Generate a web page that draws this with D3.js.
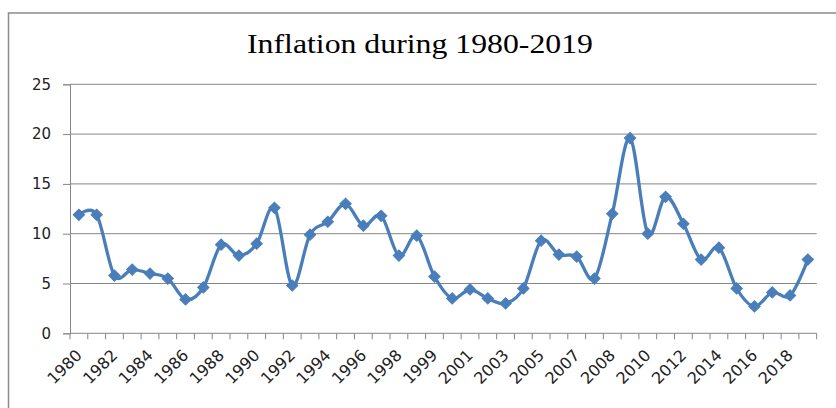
<!DOCTYPE html>
<html>
<head>
<meta charset="utf-8">
<script src="https://cdn.jsdelivr.net/npm/d3@7"></script>
<style>
  html, body { margin: 0; padding: 0; background: #fff; }
  svg { display: block; }
</style>
</head>
<body>
<svg id="chart" width="836" height="408"></svg>
<script>
// ---- data ----
const title = "Inflation during 1980-2019";
const categories = ["1980","1981","1982","1983","1984","1985","1986","1987","1988","1989",
  "1990","1991","1992","1993","1994","1995","1996","1997","1998","1998-99",
  "1999","2000","2001","2002","2003","2004","2005","2006","2007","2007-08",
  "2008","2009","2010","2011","2012","2013","2014","2015","2016","2017",
  "2018","2019"];
const inflation = [11.9, 11.9, 5.8, 6.4, 6.0, 5.5, 3.4, 4.6, 8.9, 7.8,
  9.0, 12.6, 4.8, 9.9, 11.2, 13.0, 10.8, 11.8, 7.8, 9.8,
  5.7, 3.5, 4.4, 3.5, 3.0, 4.5, 9.3, 7.9, 7.7, 5.5,
  12.0, 19.6, 10.0, 13.7, 11.0, 7.4, 8.6, 4.5, 2.7, 4.1,
  3.8, 7.4];
const yTicks = [0, 5, 10, 15, 20, 25];

// ---- layout ----
const svg = d3.select("#chart");
const plotLeft = 70, plotRight = 816.7, plotTop = 84.3, plotBottom = 333.3;
const gridColor = "#868686";
const lineColor = "#4A7EBB";

// outer border (right and bottom edges fall outside the picture)
svg.append("rect")
  .attr("x", 8.5).attr("y", 13).attr("width", 860).attr("height", 420)
  .attr("fill", "none").attr("stroke", "#8c8c8c").attr("stroke-width", 1.5);

const x = d3.scaleBand().domain(d3.range(categories.length)).range([plotLeft, plotRight]).padding(0);
const y = d3.scaleLinear().domain([0, 25]).range([plotBottom, plotTop]);

// title
svg.append("text")
  .attr("x", 420).attr("y", 53)
  .attr("text-anchor", "middle")
  .attr("font-family", "'Liberation Serif', 'Times New Roman', serif")
  .attr("font-size", 27)
  .attr("textLength", 346).attr("lengthAdjust", "spacingAndGlyphs")
  .attr("fill", "#000")
  .text(title);

// gridlines
svg.append("g").selectAll("line").data(yTicks.filter(d => d > 0)).join("line")
  .attr("x1", plotLeft).attr("x2", plotRight)
  .attr("y1", d => y(d)).attr("y2", d => y(d))
  .attr("stroke", gridColor).attr("stroke-width", 1);

// y axis
const yAxis = svg.append("g").attr("transform", `translate(${plotLeft},0)`)
  .call(d3.axisLeft(y).tickValues(yTicks).tickSize(7).tickPadding(12).tickFormat(d3.format("d")));
yAxis.select(".domain").attr("stroke", gridColor);
yAxis.selectAll(".tick line").attr("stroke", gridColor);
yAxis.selectAll(".tick text")
  .attr("font-family", "'DejaVu Sans', sans-serif").attr("font-size", 15).attr("fill", "#222");

// x axis: baseline + tick marks at band boundaries
svg.append("line").attr("x1", plotLeft).attr("x2", plotRight).attr("y1", plotBottom).attr("y2", plotBottom)
  .attr("stroke", gridColor);
const boundaries = d3.range(categories.length + 1).map(i => plotLeft + i * x.bandwidth());
svg.append("g").selectAll("line").data(boundaries).join("line")
  .attr("x1", d => d).attr("x2", d => d).attr("y1", plotBottom).attr("y2", plotBottom + 6)
  .attr("stroke", gridColor);

// x labels (every other category)
svg.append("g").selectAll("text")
  .data(categories.map((c, i) => ({c, i})).filter(d => d.i % 2 === 0))
  .join("text")
  .attr("transform", d => `translate(${x(d.i) + x.bandwidth() / 2 + 4},${plotBottom + 23}) rotate(-45)`)
  .attr("text-anchor", "end")
  .attr("font-family", "'DejaVu Sans', sans-serif").attr("font-size", 16).attr("fill", "#222")
  .text(d => d.c);

// smoothed line
const cx = i => x(i) + x.bandwidth() / 2;
const line = d3.line().x((d, i) => cx(i)).y(d => y(d)).curve(d3.curveCatmullRom.alpha(0));
svg.append("path").datum(inflation)
  .attr("d", line).attr("fill", "none")
  .attr("stroke", lineColor).attr("stroke-width", 3.3).attr("stroke-linejoin", "round");

// diamond markers
const diamond = d3.symbol().type(d3.symbolSquare).size(64);
svg.append("g").selectAll("path").data(inflation).join("path")
  .attr("d", diamond)
  .attr("transform", (d, i) => `translate(${cx(i)},${y(d)}) rotate(45)`)
  .attr("fill", lineColor).attr("stroke", lineColor).attr("stroke-width", 1);
</script>
</body>
</html>
